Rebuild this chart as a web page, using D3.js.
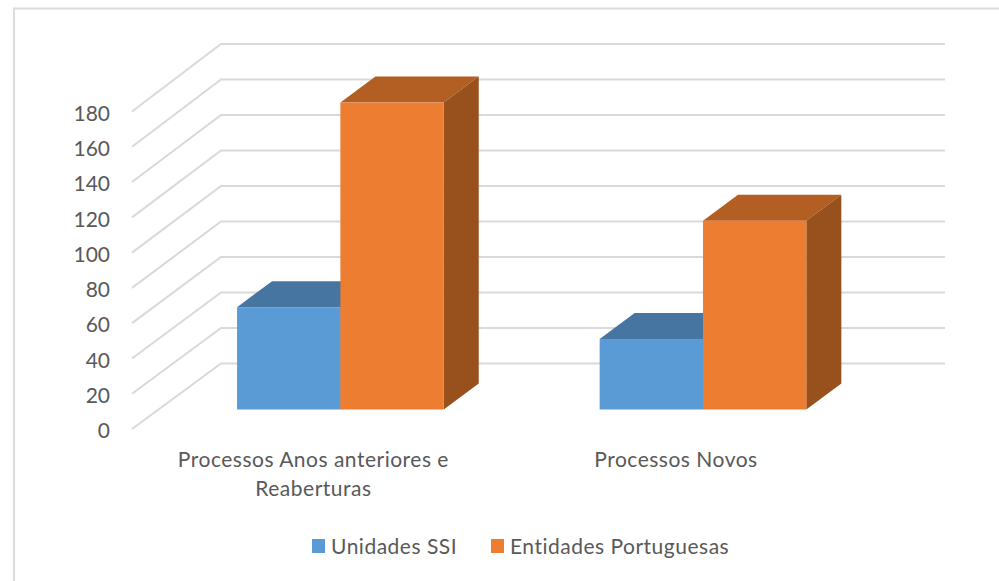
<!DOCTYPE html>
<html>
<head>
<meta charset="utf-8">
<script src="https://cdn.jsdelivr.net/npm/d3@7"></script>
<style>
  html, body { margin: 0; padding: 0; background: #fff; }
  text { font-family: Lato, "Open Sans", sans-serif; fill: #595959; }
</style>
</head>
<body>
<div class="chart"></div>
<script>
const categories = ["Processos Anos anteriores e Reaberturas", "Processos Novos"]
const seriesNames = ["Unidades SSI", "Entidades Portuguesas"]
const unidades = [58, 40]
const entidades = [174, 107]
const yTicks = [0, 20, 40, 60, 80, 100, 120, 140, 160, 180]

const seriesColors = ["#5b9bd5", "#ed7d31"]
const topColors = ["#4675a1", "#b35e23"]
const sideColors = ["#3f6a92", "#98501c"]
const gridColor = "#d9d9d9"

const svg = d3.select(".chart").append("svg")
  .attr("width", 999)
  .attr("height", 581)
  .style("display", "block")

// outer frame, only top and left show in the picture
svg.append("path")
  .attr("d", "M14,581V8.5H999")
  .attr("fill", "none")
  .attr("stroke", "#dcdcdc")
  .attr("stroke-width", 2)

// front edge of the floor and how far the 3d depth goes back
const frontX = 132
const backX = 221
const rightX = 945
const y = d3.scaleLinear().domain([0, 180]).range([429, 111.5])
const wallY = d3.scaleLinear().domain([0, 180]).range([363.5, 44])

const grid = svg.append("g")
grid.selectAll("path")
  .data(yTicks)
  .enter()
  .append("path")
  .attr("d", d => `M${frontX},${y(d)}L${backX},${wallY(d)}H${rightX}`)
  .attr("fill", "none")
  .attr("stroke", gridColor)
  .attr("stroke-width", 2)

svg.append("g")
  .attr("transform", `translate(110, 2)`)
  .call(d3.axisLeft(y).tickValues(yTicks).tickSize(0).tickPadding(0))
  .call(g => g.select(".domain").remove())
  .selectAll("text")
  .style("font-family", "Lato, sans-serif")
  .style("font-size", "21px")
  .attr("fill", "#595959")

// bars
const x = d3.scaleBand()
  .domain(categories)
  .range([159.1, 884.3])
  .paddingInner(0.43)
  .paddingOuter(0.215)

const x1 = d3.scaleBand()
  .domain(seriesNames)
  .range([0, x.bandwidth()])

const barY = d3.scaleLinear().domain([0, 180]).range([409.5, 92])
const depthX = 35
const depthY = 26

const rows = []
seriesNames.forEach((name, s) => {
  const vals = s === 0 ? unidades : entidades
  categories.forEach((cat, i) => rows.push({cat: cat, name: name, s: s, val: vals[i]}))
})

const bars = svg.append("g").selectAll("g")
  .data(rows)
  .enter()
  .append("g")
  .attr("transform", d => `translate(${x(d.cat) + x1(d.name)}, 0)`)

const w = x1.bandwidth()

bars.append("path")
  .attr("fill", d => topColors[d.s])
  .attr("d", d => `M0,${barY(d.val)}l${depthX},${-depthY}h${w}l${-depthX},${depthY}z`)

bars.append("path")
  .attr("fill", d => sideColors[d.s])
  .attr("d", d => `M${w},${barY(0)}l${depthX},${-depthY}V${barY(d.val) - depthY}l${-depthX},${depthY}z`)

bars.append("rect")
  .attr("fill", d => seriesColors[d.s])
  .attr("x", 0)
  .attr("y", d => barY(d.val))
  .attr("width", w)
  .attr("height", d => barY(0) - barY(d.val))

// category labels, the first one wraps on two lines
const catLines = [["Processos Anos anteriores e", "Reaberturas"], ["Processos Novos"]]
const labels = svg.append("g").selectAll("text")
  .data(categories)
  .enter()
  .append("text")
  .attr("text-anchor", "middle")
  .attr("font-size", 21)
  .attr("letter-spacing", 0.5)
  .attr("y", 467)

labels.selectAll("tspan")
  .data((d, i) => catLines[i].map(t => ({t: t, cat: d})))
  .enter()
  .append("tspan")
  .attr("x", d => x(d.cat) + x.bandwidth() / 2 - 27)
  .attr("dy", (d, i) => i === 0 ? 0 : 29)
  .text(d => d.t)

// legend
const legendX = [312, 491]
const legend = svg.append("g").selectAll("g")
  .data(seriesNames)
  .enter()
  .append("g")
  .attr("transform", (d, i) => `translate(${legendX[i]}, 540)`)

legend.append("rect")
  .attr("y", -1)
  .attr("width", 13)
  .attr("height", 14)
  .attr("fill", (d, i) => seriesColors[i])

legend.append("text")
  .attr("x", 19)
  .attr("y", 14)
  .attr("font-size", 21)
  .attr("letter-spacing", 0.5)
  .text(d => d)
</script>
</body>
</html>
